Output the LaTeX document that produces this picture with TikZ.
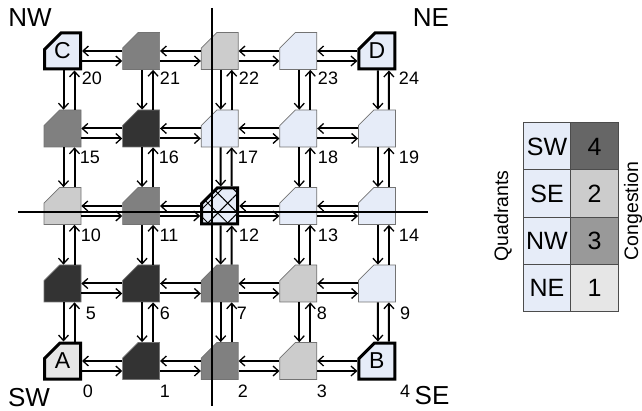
\documentclass[tikz,border=0pt]{standalone}
\usepackage{fontspec}
\setmainfont{Liberation Sans}
\usetikzlibrary{arrows.meta,shapes.misc,patterns.meta}
\definecolor{cool}{HTML}{E6ECF8}
\definecolor{mild}{HTML}{CCCCCC}
\definecolor{warm}{HTML}{808080}
\definecolor{hot}{HTML}{333333}
\definecolor{pale}{HTML}{E6E6E6}
\definecolor{tblhot}{HTML}{666666}
\definecolor{tblwarm}{HTML}{999999}
\tikzset{
  router/.style={chamfered rectangle,chamfered rectangle corners=north west,
    chamfered rectangle xsep=13pt,chamfered rectangle ysep=13pt,
    minimum width=37pt,minimum height=37pt,inner sep=0pt,
    draw=black!55,line width=0.7pt,font=\fontsize{23}{23}\selectfont},
  corner/.style={draw=black,line width=3pt,minimum width=36pt,minimum height=36pt},
  link/.style={line width=2pt,-{Straight Barb[length=5.5pt,width=10pt,line width=1.3pt]}},
  quadline/.style={line width=1.7pt},
  numlbl/.style={font=\fontsize{18}{18}\selectfont,inner sep=0pt},
  quadlbl/.style={font=\fontsize{26}{26}\selectfont,inner sep=0pt},
  cell/.style={draw=black!70,line width=1pt,minimum width=47.5pt,minimum height=47.3pt,
    inner sep=0pt,font=\fontsize{25}{25}\selectfont},
  sidelbl/.style={font=\fontsize{19.5}{19.5}\selectfont,rotate=90,inner sep=0pt}
}
\begin{document}
\begin{tikzpicture}[x=1pt,y=-1pt]
  \useasboundingbox (0,0) rectangle (642,411);
  % routers, numbered from the bottom left
  \foreach \k/\col in {1/hot,2/warm,3/mild,
      5/hot,6/hot,7/warm,8/mild,9/cool,
      10/mild,11/warm,13/cool,14/cool,
      15/warm,16/hot,17/cool,18/cool,19/cool,
      21/warm,22/mild,23/cool}{
    \pgfmathsetmacro\cx{62.5+78.6*mod(\k,5)}
    \pgfmathsetmacro\cy{361-77.5*floor(\k/5)}
    \node[router,fill=\col] (r\k) at (\cx,\cy) {\phantom{A}};
  }
  \node[router,corner,fill=pale] (r0) at (62.5,361) {A};
  \node[router,corner,fill=cool] (r4) at (376.9,361) {B};
  \node[router,corner,fill=cool] (r20) at (62.5,51) {C};
  \node[router,corner,fill=cool] (r24) at (376.9,51) {D};
  \node[router,corner,fill=cool,
    postaction={pattern={Lines[angle=45,distance=14pt,line width=1pt]}},
    postaction={pattern={Lines[angle=-45,distance=14pt,line width=1pt]}}] (r12) at (219.7,206) {\phantom{A}};
  % links
  \foreach \a [evaluate=\a as \b using int(\a+1)] in {0,1,2,3,5,6,7,8,10,11,12,13,15,16,17,18,20,21,22,23}{
    \draw[link] (r\b.west) -- (r\a.east);
    \draw[link] ([yshift=-10pt]r\a.east) -- ([yshift=-10pt]r\b.west);
  }
  \foreach \a [evaluate=\a as \b using int(\a+5)] in {0,...,19}{
    \draw[link] ([xshift=1pt]r\b.south) -- ([xshift=1pt]r\a.north);
    \draw[link] ([xshift=12pt]r\a.north) -- ([xshift=12pt]r\b.south);
  }
  % quadrant lines
  \coordinate (qtop) at (212,8);
  \coordinate (qbot) at (212,406);
  \coordinate (qleft) at (18,212);
  \coordinate (qright) at (428,212);
  \draw[quadline] (qtop) -- (qbot);
  \draw[quadline] (qleft) -- (qright);
  % numbers
  \foreach \n/\lx/\ly in {0/88/391,1/165/391,2/243/391,3/322/391,4/405/391,
      5/91/313,6/165/313,7/242/313,8/322/313,9/405/313,
      10/91/235,11/169/235,12/249/235,13/328/235,14/409/235,
      15/90/157,16/169/157,17/248/157,18/328/157,19/409/157,
      20/92/78,21/170/78,22/249/78,23/328/78,24/409/78}{
    \node[numlbl] (n\n) at (\lx,\ly) {\n};
  }
  \node[quadlbl] (qnw) at (30,18) {NW};
  \node[quadlbl] (qne) at (431,18) {NE};
  \node[quadlbl] (qsw) at (29,398) {SW};
  \node[quadlbl] (qse) at (432,396) {SE};
  % table
  \foreach \q/\cg/\col/\ty in {SW/4/tblhot/146.5,SE/2/mild/193.5,NW/3/tblwarm/241,NE/1/pale/288}{
    \node[cell,fill=cool] (t\q) at (547,\ty) {\q};
    \node[cell,fill=\col] (c\q) at (594.5,\ty) {\cg};
  }
  \node[sidelbl] (tquad) at (503,216) {Quadrants};
  \node[sidelbl] (tcong) at (633,211) {Congestion};
\end{tikzpicture}
\end{document}
